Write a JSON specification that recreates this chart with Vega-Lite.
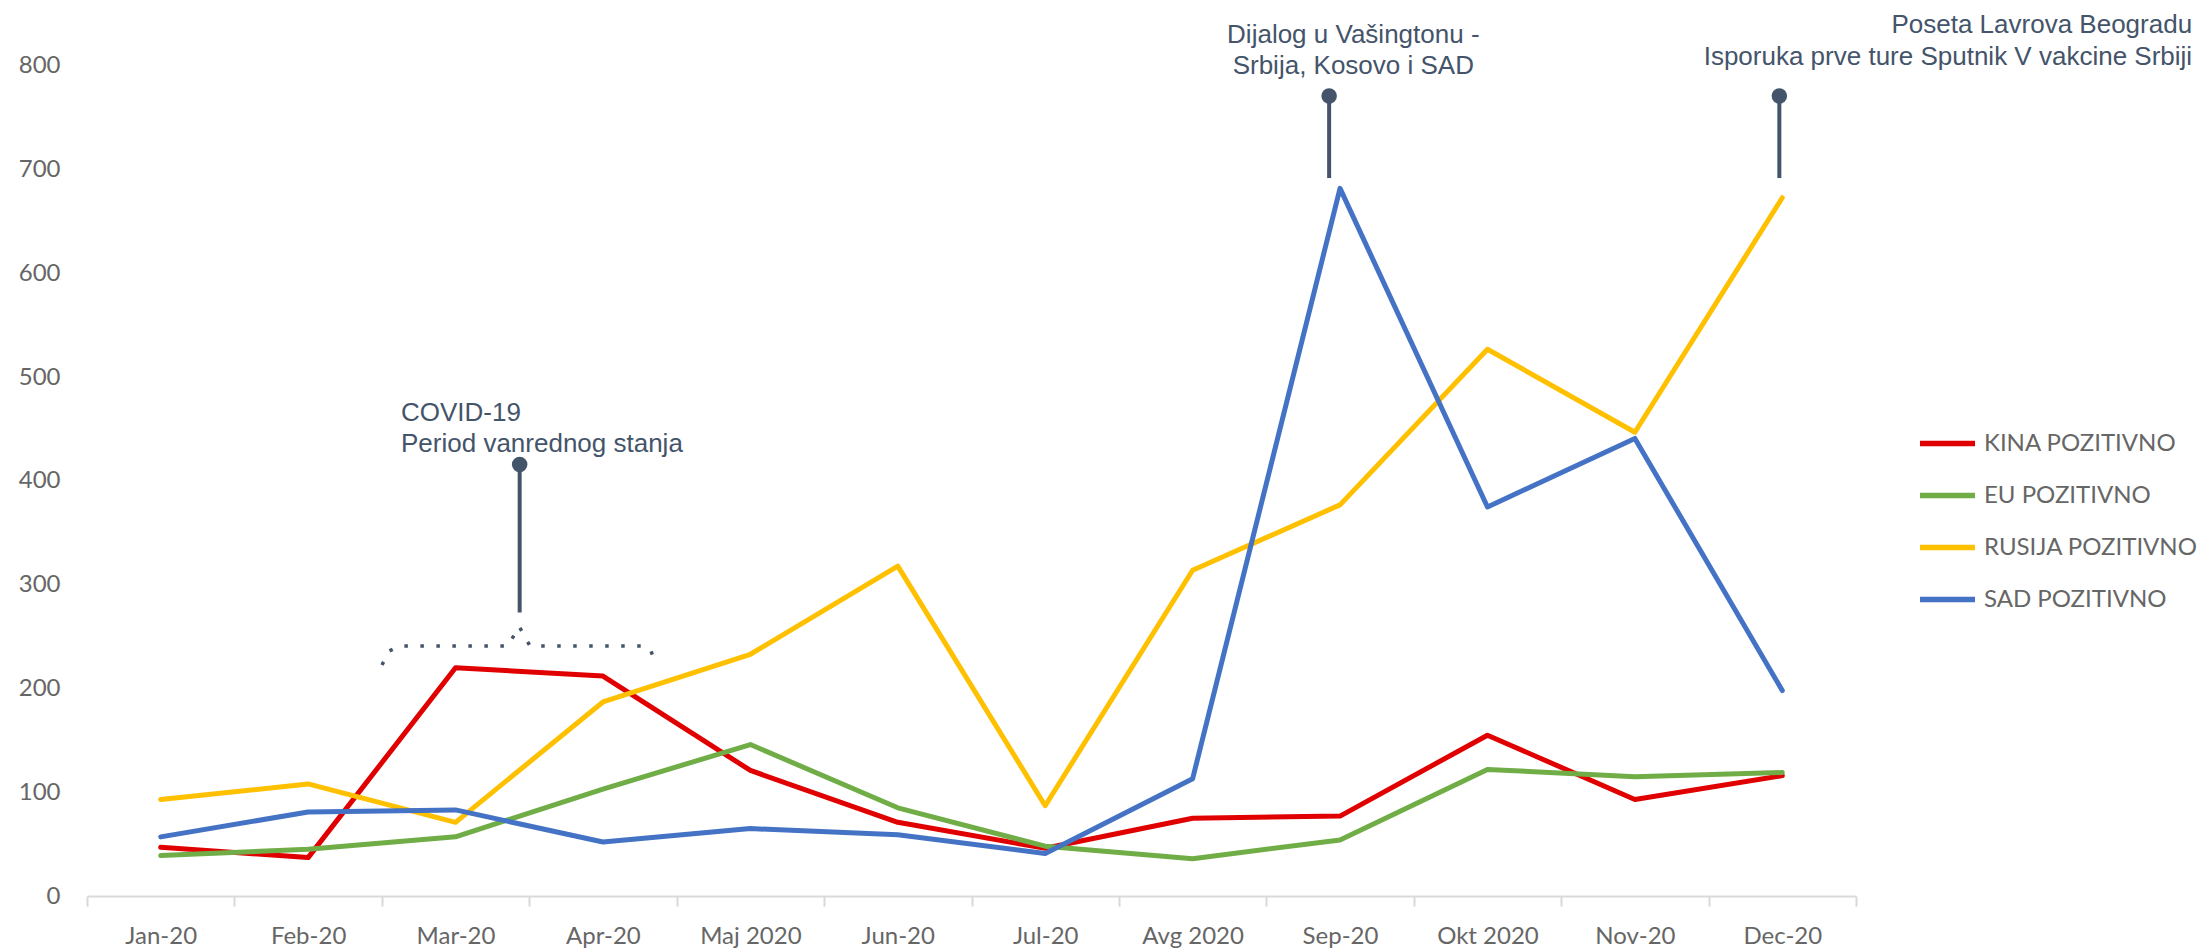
{
  "$schema": "https://vega.github.io/schema/vega-lite/v6.json",
  "width": 1769,
  "height": 896,
  "autosize": {"type": "none"},
  "padding": {"left": 87, "top": 0, "right": 352, "bottom": 53},
  "background": "white",
  "config": {"view": {"stroke": null}},
  "datasets": {
    "series": [
      {"i": 0, "month": "Jan-20", "s": "KINA POZITIVNO", "v": 47},
      {"i": 1, "month": "Feb-20", "s": "KINA POZITIVNO", "v": 37},
      {"i": 2, "month": "Mar-20", "s": "KINA POZITIVNO", "v": 220},
      {"i": 3, "month": "Apr-20", "s": "KINA POZITIVNO", "v": 212},
      {"i": 4, "month": "Maj 2020", "s": "KINA POZITIVNO", "v": 121},
      {"i": 5, "month": "Jun-20", "s": "KINA POZITIVNO", "v": 71},
      {"i": 6, "month": "Jul-20", "s": "KINA POZITIVNO", "v": 46},
      {"i": 7, "month": "Avg 2020", "s": "KINA POZITIVNO", "v": 75},
      {"i": 8, "month": "Sep-20", "s": "KINA POZITIVNO", "v": 77},
      {"i": 9, "month": "Okt 2020", "s": "KINA POZITIVNO", "v": 155},
      {"i": 10, "month": "Nov-20", "s": "KINA POZITIVNO", "v": 93},
      {"i": 11, "month": "Dec-20", "s": "KINA POZITIVNO", "v": 116},
      {"i": 0, "month": "Jan-20", "s": "EU POZITIVNO", "v": 39},
      {"i": 1, "month": "Feb-20", "s": "EU POZITIVNO", "v": 45},
      {"i": 2, "month": "Mar-20", "s": "EU POZITIVNO", "v": 57},
      {"i": 3, "month": "Apr-20", "s": "EU POZITIVNO", "v": 103},
      {"i": 4, "month": "Maj 2020", "s": "EU POZITIVNO", "v": 146},
      {"i": 5, "month": "Jun-20", "s": "EU POZITIVNO", "v": 85},
      {"i": 6, "month": "Jul-20", "s": "EU POZITIVNO", "v": 48},
      {"i": 7, "month": "Avg 2020", "s": "EU POZITIVNO", "v": 36},
      {"i": 8, "month": "Sep-20", "s": "EU POZITIVNO", "v": 54},
      {"i": 9, "month": "Okt 2020", "s": "EU POZITIVNO", "v": 122},
      {"i": 10, "month": "Nov-20", "s": "EU POZITIVNO", "v": 115},
      {"i": 11, "month": "Dec-20", "s": "EU POZITIVNO", "v": 119},
      {"i": 0, "month": "Jan-20", "s": "RUSIJA POZITIVNO", "v": 93},
      {"i": 1, "month": "Feb-20", "s": "RUSIJA POZITIVNO", "v": 108},
      {"i": 2, "month": "Mar-20", "s": "RUSIJA POZITIVNO", "v": 71},
      {"i": 3, "month": "Apr-20", "s": "RUSIJA POZITIVNO", "v": 187},
      {"i": 4, "month": "Maj 2020", "s": "RUSIJA POZITIVNO", "v": 233},
      {"i": 5, "month": "Jun-20", "s": "RUSIJA POZITIVNO", "v": 318},
      {"i": 6, "month": "Jul-20", "s": "RUSIJA POZITIVNO", "v": 87},
      {"i": 7, "month": "Avg 2020", "s": "RUSIJA POZITIVNO", "v": 314},
      {"i": 8, "month": "Sep-20", "s": "RUSIJA POZITIVNO", "v": 377},
      {"i": 9, "month": "Okt 2020", "s": "RUSIJA POZITIVNO", "v": 527},
      {"i": 10, "month": "Nov-20", "s": "RUSIJA POZITIVNO", "v": 447},
      {"i": 11, "month": "Dec-20", "s": "RUSIJA POZITIVNO", "v": 673},
      {"i": 0, "month": "Jan-20", "s": "SAD POZITIVNO", "v": 57},
      {"i": 1, "month": "Feb-20", "s": "SAD POZITIVNO", "v": 81},
      {"i": 2, "month": "Mar-20", "s": "SAD POZITIVNO", "v": 83},
      {"i": 3, "month": "Apr-20", "s": "SAD POZITIVNO", "v": 52},
      {"i": 4, "month": "Maj 2020", "s": "SAD POZITIVNO", "v": 65},
      {"i": 5, "month": "Jun-20", "s": "SAD POZITIVNO", "v": 59},
      {"i": 6, "month": "Jul-20", "s": "SAD POZITIVNO", "v": 41},
      {"i": 7, "month": "Avg 2020", "s": "SAD POZITIVNO", "v": 113},
      {"i": 8, "month": "Sep-20", "s": "SAD POZITIVNO", "v": 682},
      {"i": 9, "month": "Okt 2020", "s": "SAD POZITIVNO", "v": 375},
      {"i": 10, "month": "Nov-20", "s": "SAD POZITIVNO", "v": 441},
      {"i": 11, "month": "Dec-20", "s": "SAD POZITIVNO", "v": 198}
    ],
    "notes": [
      {"x": 1.63, "y": 457.8, "t": "COVID-19", "g": "L"},
      {"x": 1.63, "y": 428.0, "t": "Period vanrednog stanja", "g": "L"},
      {"x": 8.09, "y": 822.2, "t": "Dijalog u Vašingtonu -", "g": "C"},
      {"x": 8.09, "y": 792.3, "t": "Srbija, Kosovo i SAD", "g": "C"},
      {"x": 13.78, "y": 831.5, "t": "Poseta Lavrova Beogradu", "g": "R"},
      {"x": 13.78, "y": 800.9, "t": "Isporuka prve ture Sputnik V vakcine Srbiji", "g": "R"}
    ],
    "stems": [
      {"x": 2.435, "y": 415.8, "y2": 273.3},
      {"x": 7.926, "y": 771.1, "y2": 692.0},
      {"x": 10.98, "y": 771.1, "y2": 692.0}
    ],
    "brace": [
      {"k": 0, "x": 1.501, "y": 222.7},
      {"k": 1, "x": 1.549, "y": 236},
      {"k": 2, "x": 1.623, "y": 241},
      {"k": 3, "x": 2.356, "y": 241},
      {"k": 4, "x": 2.431, "y": 260},
      {"k": 5, "x": 2.505, "y": 241},
      {"k": 6, "x": 3.286, "y": 241},
      {"k": 7, "x": 3.326, "y": 236},
      {"k": 8, "x": 3.36, "y": 222.7}
    ]
  },
  "layer": [
    {
      "data": {"name": "series"},
      "mark": {"type": "line", "strokeWidth": 5, "strokeCap": "round", "strokeJoin": "round"},
      "encoding": {
        "x": {
          "field": "i", "type": "quantitative",
          "scale": {"domain": [-0.5, 11.5], "nice": false, "zero": false},
          "axis": {
            "title": null, "grid": false,
            "values": [-0.5, 0.5, 1.5, 2.5, 3.5, 4.5, 5.5, 6.5, 7.5, 8.5, 9.5, 10.5, 11.5],
            "labelExpr": "datum.value < 11 ? ['Jan-20','Feb-20','Mar-20','Apr-20','Maj 2020','Jun-20','Jul-20','Avg 2020','Sep-20','Okt 2020','Nov-20','Dec-20'][round(datum.value + 0.5)] : ''",
            "labelOffset": 73.7, "labelAlign": "center", "labelBaseline": "alphabetic",
            "labelPadding": 37, "labelOverlap": false, "labelFlush": false, "labelBound": false,
            "labelFont": "Lato", "labelFontSize": 24, "labelColor": "#666666",
            "domainColor": "#D9D9D9", "domainWidth": 2,
            "tickColor": "#D9D9D9", "tickWidth": 2, "tickSize": 10
          }
        },
        "y": {
          "field": "v", "type": "quantitative",
          "scale": {"domain": [0, 863.6], "nice": false, "zero": true},
          "axis": {
            "title": null, "grid": false, "domain": false, "ticks": false,
            "values": [0, 100, 200, 300, 400, 500, 600, 700, 800],
            "labelPadding": 27, "labelFont": "Lato", "labelFontSize": 24, "labelColor": "#666666"
          }
        },
        "color": {
          "field": "s", "type": "nominal",
          "scale": {
            "domain": ["KINA POZITIVNO", "EU POZITIVNO", "RUSIJA POZITIVNO", "SAD POZITIVNO"],
            "range": ["#E00000", "#70AD47", "#FFC000", "#4472C4"]
          },
          "legend": {
            "orient": "none", "legendX": 1830, "legendY": 413, "title": null, "padding": 0,
            "symbolType": "stroke", "symbolSize": 3025, "symbolStrokeWidth": 5.5,
            "rowPadding": 9, "labelOffset": 6, "labelLimit": 0,
            "labelFont": "Lato", "labelFontSize": 24, "labelColor": "#666666"
          }
        },
        "order": {"field": "i", "type": "quantitative"}
      }
    },
    {
      "data": {"name": "brace"},
      "mark": {"type": "line", "stroke": "#44546A", "strokeWidth": 3.5, "strokeDash": [3.5, 12.5], "strokeCap": "butt"},
      "encoding": {
        "x": {"field": "x", "type": "quantitative"},
        "y": {"field": "y", "type": "quantitative"},
        "order": {"field": "k", "type": "quantitative"}
      }
    },
    {
      "data": {"name": "stems"},
      "mark": {"type": "rule", "stroke": "#44546A", "strokeWidth": 4},
      "encoding": {
        "x": {"field": "x", "type": "quantitative"},
        "y": {"field": "y", "type": "quantitative"},
        "y2": {"field": "y2"}
      }
    },
    {
      "data": {"name": "stems"},
      "mark": {"type": "circle", "size": 240, "color": "#44546A", "opacity": 1},
      "encoding": {
        "x": {"field": "x", "type": "quantitative"},
        "y": {"field": "y", "type": "quantitative"}
      }
    },
    {
      "data": {"name": "notes"},
      "transform": [{"filter": "datum.g == 'L'"}],
      "mark": {"type": "text", "align": "left", "baseline": "alphabetic", "font": "Liberation Sans", "fontSize": 26, "color": "#44546A"},
      "encoding": {
        "x": {"field": "x", "type": "quantitative"},
        "y": {"field": "y", "type": "quantitative"},
        "text": {"field": "t"}
      }
    },
    {
      "data": {"name": "notes"},
      "transform": [{"filter": "datum.g == 'C'"}],
      "mark": {"type": "text", "align": "center", "baseline": "alphabetic", "font": "Liberation Sans", "fontSize": 26, "color": "#44546A"},
      "encoding": {
        "x": {"field": "x", "type": "quantitative"},
        "y": {"field": "y", "type": "quantitative"},
        "text": {"field": "t"}
      }
    },
    {
      "data": {"name": "notes"},
      "transform": [{"filter": "datum.g == 'R'"}],
      "mark": {"type": "text", "align": "right", "baseline": "alphabetic", "font": "Liberation Sans", "fontSize": 26, "color": "#44546A"},
      "encoding": {
        "x": {"field": "x", "type": "quantitative"},
        "y": {"field": "y", "type": "quantitative"},
        "text": {"field": "t"}
      }
    }
  ]
}
